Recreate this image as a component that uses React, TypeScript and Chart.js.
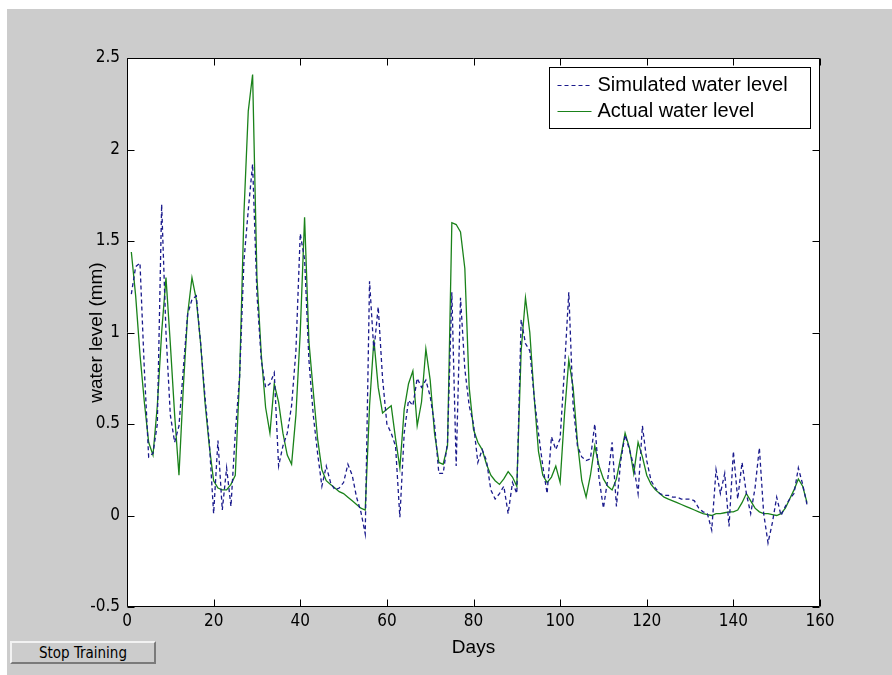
import React, { useEffect, useRef } from 'react';
import { Chart, registerables } from 'chart.js';

Chart.register(...registerables);

const days: number[] = Array.from({ length: 157 }, (_, i) => i + 1);

const simulated: number[] = [
  1.21, 1.36, 1.38, 0.80, 0.32, 0.34, 0.50, 1.70, 1.00, 0.55,
  0.40, 0.49, 0.80, 1.10, 1.18, 1.20, 0.94, 0.65, 0.40, 0.01,
  0.41, 0.03, 0.26, 0.05, 0.45, 0.76, 1.39, 1.67, 1.92, 1.21,
  0.85, 0.70, 0.72, 0.78, 0.27, 0.38, 0.45, 0.60, 0.90, 1.54,
  1.40, 0.85, 0.55, 0.34, 0.16, 0.27, 0.18, 0.14, 0.15, 0.18,
  0.28, 0.22, 0.10, 0.02, -0.10, 1.28, 0.90, 1.14, 0.75, 0.50,
  0.45, 0.38, -0.01, 0.45, 0.63, 0.60, 0.75, 0.70, 0.74, 0.65,
  0.50, 0.23, 0.23, 0.40, 1.22, 0.27, 1.19, 0.80, 0.60, 0.50,
  0.29, 0.36, 0.30, 0.14, 0.09, 0.12, 0.16, 0.01, 0.18, 0.12,
  1.07, 0.94, 0.90, 0.65, 0.45, 0.27, 0.12, 0.43, 0.36, 0.42,
  0.80, 1.22, 0.60, 0.38, 0.32, 0.30, 0.31, 0.50, 0.20, 0.04,
  0.20, 0.40, 0.05, 0.30, 0.44, 0.36, 0.27, 0.12, 0.49, 0.30,
  0.19, 0.15, 0.12, 0.11, 0.11, 0.10, 0.10, 0.09, 0.09, 0.09,
  0.08, 0.04, 0.02, 0.01, -0.08, 0.25, 0.12, 0.23, -0.06, 0.35,
  0.09, 0.29, 0.12, 0.01, 0.15, 0.37, 0.01, -0.15, -0.04, 0.10,
  0.00, 0.05, 0.09, 0.12, 0.26, 0.17, 0.06,
];

const actual: number[] = [
  1.44, 1.20, 0.88, 0.62, 0.40, 0.33, 0.60, 1.00, 1.30, 0.94,
  0.55, 0.22, 0.70, 1.10, 1.30, 1.18, 0.94, 0.62, 0.38, 0.19,
  0.15, 0.14, 0.14, 0.17, 0.22, 0.76, 1.65, 2.21, 2.41, 1.30,
  0.88, 0.59, 0.45, 0.72, 0.62, 0.45, 0.33, 0.28, 0.55, 1.00,
  1.63, 0.95, 0.68, 0.42, 0.25, 0.19, 0.17, 0.15, 0.13, 0.12,
  0.10, 0.08, 0.06, 0.04, 0.03, 0.60, 0.96, 0.70, 0.56, 0.58,
  0.60, 0.42, 0.26, 0.58, 0.72, 0.79, 0.49, 0.62, 0.91, 0.74,
  0.45, 0.29, 0.28, 0.38, 1.60, 1.59, 1.55, 1.35, 0.70, 0.47,
  0.40, 0.36, 0.28, 0.22, 0.19, 0.17, 0.20, 0.24, 0.21, 0.16,
  0.90, 1.19, 1.00, 0.65, 0.35, 0.22, 0.18, 0.21, 0.27, 0.18,
  0.55, 0.85, 0.70, 0.40, 0.19, 0.10, 0.22, 0.38, 0.27, 0.20,
  0.16, 0.14, 0.20, 0.32, 0.45, 0.37, 0.23, 0.40, 0.32, 0.22,
  0.17, 0.14, 0.12, 0.10, 0.09, 0.08, 0.07, 0.06, 0.05, 0.04,
  0.03, 0.02, 0.01, 0.005, 0.00, 0.01, 0.01, 0.015, 0.02, 0.02,
  0.03, 0.07, 0.12, 0.08, 0.04, 0.02, 0.01, 0.01, 0.005, 0.00,
  0.01, 0.04, 0.09, 0.14, 0.20, 0.16, 0.07,
];

const xTicks: number[] = [0, 20, 40, 60, 80, 100, 120, 140, 160];
const yTicks: number[] = [-0.5, 0, 0.5, 1, 1.5, 2, 2.5];

const seriesLabels = ['Simulated water level', 'Actual water level'];
const xTitle = 'Days';
const yTitle = 'water level (mm)';

const NARROW = "'Liberation Sans Narrow', 'Arial Narrow', 'DejaVu Sans Condensed', sans-serif";
const REGULAR = "'Liberation Sans', Arial, sans-serif";

const matlabFrame = {
  id: 'matlabFrame',
  beforeDraw(chart: any) {
    const { ctx, chartArea } = chart;
    const { left, top, right, bottom } = chartArea;
    ctx.save();
    ctx.fillStyle = '#ffffff';
    ctx.fillRect(left, top, right - left, bottom - top);
    ctx.restore();
  },
  afterDraw(chart: any) {
    const { ctx, chartArea, scales } = chart;
    const { left, top, right, bottom } = chartArea;
    const L = Math.round(left) + 0.5;
    const R = Math.round(right) - 0.5;
    const T = Math.round(top) + 0.5;
    const B = Math.round(bottom) - 0.5;
    const tl = 7;
    ctx.save();
    ctx.strokeStyle = '#000000';
    ctx.lineWidth = 1;
    ctx.setLineDash([]);
    ctx.beginPath();
    ctx.rect(L, T, R - L, B - T);
    ctx.stroke();
    ctx.beginPath();
    scales.x.ticks.forEach((t: any) => {
      const px = Math.round(scales.x.getPixelForValue(t.value)) + 0.5;
      ctx.moveTo(px, B);
      ctx.lineTo(px, B - tl);
      ctx.moveTo(px, T);
      ctx.lineTo(px, T + tl);
    });
    scales.y.ticks.forEach((t: any) => {
      const py = Math.round(scales.y.getPixelForValue(t.value)) + 0.5;
      ctx.moveTo(L, py);
      ctx.lineTo(L + tl, py);
      ctx.moveTo(R, py);
      ctx.lineTo(R - tl, py);
    });
    ctx.stroke();

    // legend box (MATLAB style, inside the axes)
    const bw = 261;
    const bh = 61;
    const bx = Math.round(right) - 10 - bw + 0.5;
    const by = Math.round(top) + 9 + 0.5;
    ctx.fillStyle = '#ffffff';
    ctx.fillRect(bx, by, bw, bh);
    ctx.strokeStyle = '#000000';
    ctx.strokeRect(bx, by, bw, bh);
    const rows = [by + 17, by + 43];
    chart.data.datasets.forEach((ds: any, i: number) => {
      const y = Math.round(rows[i]) + 0.5;
      ctx.save();
      ctx.strokeStyle = ds.borderColor;
      ctx.lineWidth = 1.2;
      ctx.setLineDash(ds.borderDash || []);
      ctx.beginPath();
      ctx.moveTo(bx + 8, y);
      ctx.lineTo(bx + 42, y);
      ctx.stroke();
      ctx.restore();
      ctx.fillStyle = '#000000';
      ctx.font = `20px ${REGULAR}`;
      ctx.textBaseline = 'middle';
      ctx.textAlign = 'left';
      ctx.fillText(ds.label, bx + 48, rows[i] + 1);
    });
    ctx.restore();
  },
};

export default function App() {
  const canvasRef = useRef<HTMLCanvasElement | null>(null);

  useEffect(() => {
    const canvas = canvasRef.current;
    if (!canvas) return;
    const chart = new Chart(canvas, {
      type: 'line',
      data: {
        datasets: [
          {
            label: seriesLabels[0],
            data: days.map((d, i) => ({ x: d, y: simulated[i] })),
            borderColor: '#1a1a8c',
            borderWidth: 1.3,
            borderDash: [4, 3],
            pointRadius: 0,
            fill: false,
            tension: 0,
          },
          {
            label: seriesLabels[1],
            data: days.map((d, i) => ({ x: d, y: actual[i] })),
            borderColor: '#1a821a',
            borderWidth: 1.3,
            pointRadius: 0,
            fill: false,
            tension: 0,
          },
        ],
      },
      options: {
        animation: false,
        responsive: false,
        devicePixelRatio: 1,
        events: [],
        layout: { padding: { left: 0, top: 58, right: 72, bottom: 0 } },
        plugins: {
          legend: { display: false },
          tooltip: { enabled: false },
          title: { display: false },
        },
        scales: {
          x: {
            type: 'linear',
            min: 0,
            max: 160,
            afterBuildTicks: (s: any) => {
              s.ticks = xTicks.map((v) => ({ value: v }));
            },
            afterFit: (s: any) => {
              s.height = 68;
            },
            grid: { display: false, drawTicks: false },
            border: { display: false },
            ticks: {
              color: '#000000',
              padding: 4,
              maxRotation: 0,
              autoSkip: false,
              font: { family: NARROW, size: 17 },
              callback: (v: any) => String(v),
            },
            title: {
              display: true,
              text: xTitle,
              color: '#000000',
              font: { family: REGULAR, size: 19 },
              padding: { top: 0, bottom: 15.6 },
            },
          },
          y: {
            type: 'linear',
            min: -0.5,
            max: 2.5,
            afterBuildTicks: (s: any) => {
              s.ticks = yTicks.map((v) => ({ value: v }));
            },
            afterFit: (s: any) => {
              s.width = 127;
            },
            grid: { display: false, drawTicks: false },
            border: { display: false },
            ticks: {
              color: '#000000',
              padding: 7,
              autoSkip: false,
              font: { family: NARROW, size: 17 },
              callback: (v: any) => String(v),
            },
            title: {
              display: true,
              text: yTitle,
              color: '#000000',
              font: { family: REGULAR, size: 19 },
              padding: { top: 85.6, bottom: 0 },
            },
          },
        },
      },
      plugins: [matlabFrame],
    } as any);
    return () => chart.destroy();
  }, []);

  return (
    <div style={{ position: 'fixed', left: 0, top: 0, width: 892, height: 675, background: '#ffffff', overflow: 'hidden' }}>
      <div style={{ position: 'absolute', left: 7, top: 9, right: 0, bottom: 0, background: '#cccccc' }} />
      <canvas
        ref={canvasRef}
        width={892}
        height={675}
        style={{ position: 'absolute', left: 0, top: 0, width: 892, height: 675 }}
      />
      <button
        style={{
          position: 'absolute',
          left: 10,
          top: 641,
          width: 146,
          height: 23,
          background: '#cccccc',
          borderStyle: 'solid',
          borderWidth: 2,
          borderColor: '#f2f2f2 #7a7a7a #7a7a7a #f2f2f2',
          fontFamily: NARROW,
          fontSize: 15,
          color: '#000000',
          padding: 0,
          margin: 0,
        }}
      >
        Stop Training
      </button>
    </div>
  );
}
